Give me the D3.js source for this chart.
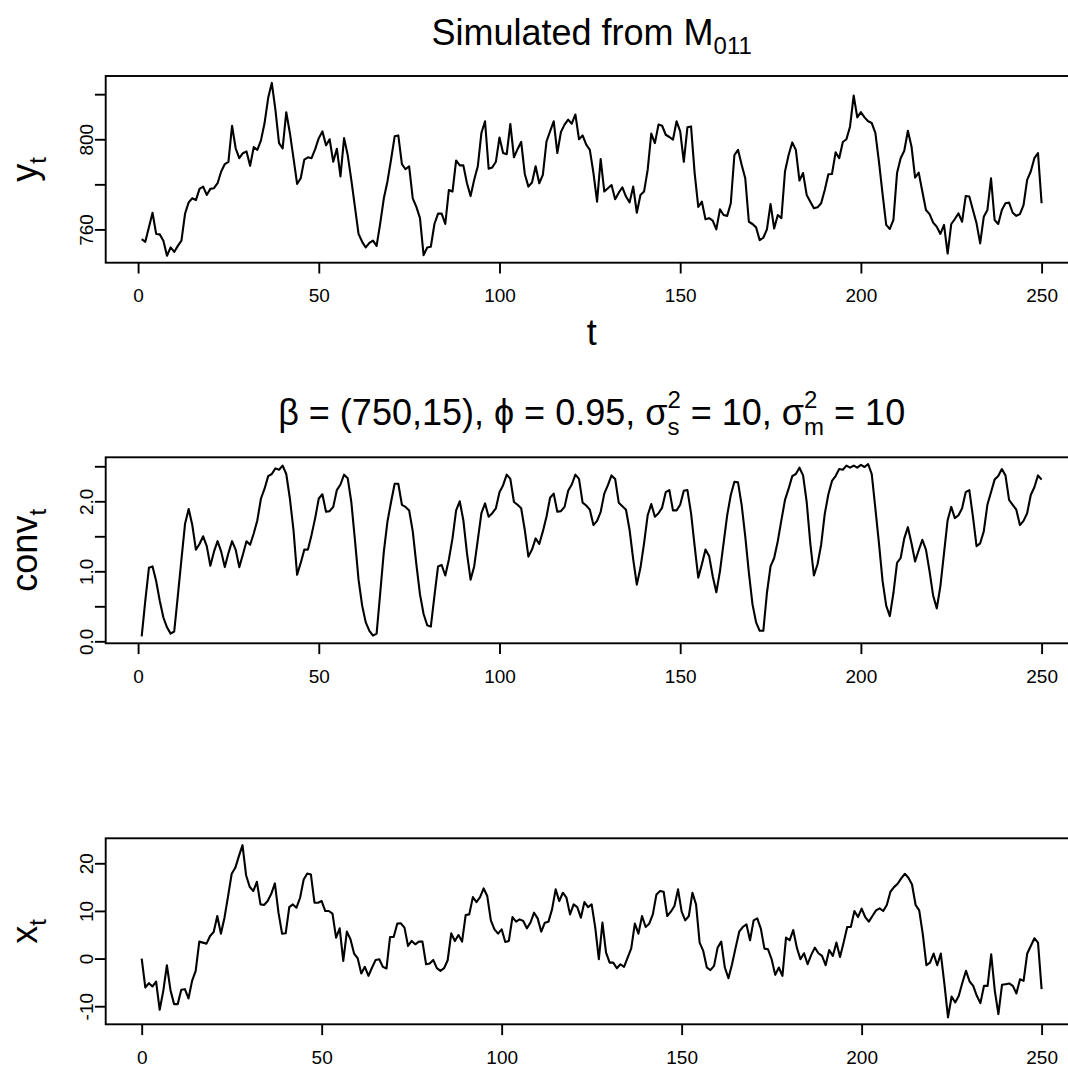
<!DOCTYPE html>
<html>
<head>
<meta charset="utf-8">
<script src="https://d3js.org/d3.v7.min.js"></script>
<style>
body { margin: 0; background: #fff; }
svg text { font-family: "Liberation Sans", Arial, sans-serif; fill: #000; white-space: pre; }
</style>
</head>
<body>
<svg id="chart" width="1068" height="1068"></svg>
<script>
//
// Data
//

// y_t, t = 1..250
var ytValues = [
  755.7, 754.5, 761, 767.4, 758, 757.8, 755, 748.3, 752, 750,
  752.7, 755, 767, 772, 773.8, 773, 778, 779, 775.3, 778,
  778.3, 780.5, 785.7, 789, 790, 806, 796, 791.6, 793.8, 794.6,
  788.2, 796.5, 795.3, 799.5, 807.2, 818.4, 825, 813, 798.3, 796,
  812, 802.8, 791.6, 780.2, 782.7, 791, 792, 791.6, 795.6, 800.5,
  803.5, 797.3, 800, 790, 795.8, 783.5, 800.5, 793, 782, 770,
  758, 754.5, 752, 754, 755, 752.7, 762.7, 773.8, 781.3, 791,
  801.3, 801.7, 789, 786.7, 788, 773.8, 770, 765, 748.6, 752,
  752.3, 762.4, 767, 767, 762.4, 777.5, 776.8, 790.6, 788.4, 788.4,
  780.5, 774.8, 782, 788, 802.8, 808, 786.9, 787.5, 790, 800.8,
  793.9, 793.4, 806.8, 792, 795.6, 798.8, 784.6, 779, 780.8, 788,
  780.5, 784.2, 799, 803.5, 808, 793.9, 803.2, 806.5, 808.7, 806.9,
  811, 800, 801.7, 797.6, 795.3, 785, 772.3, 791.2, 776.8, 778.3,
  779.7, 773.4, 776.3, 778.7, 774.6, 772, 779, 767.4, 775.3, 776.8,
  786.4, 802.5, 798.3, 806.5, 806, 802, 801, 799.8, 808, 803.5,
  790, 805.3, 805.7, 785, 770, 772.3, 764.5, 765, 763.9, 760,
  768.9, 766.4, 766, 771.6, 793, 795.3, 788.7, 782.7, 763.4, 762.4,
  760.9, 755.2, 756.3, 760, 771.3, 760.4, 766.4, 765, 785.7, 793,
  798.6, 795.3, 781.7, 785, 775.3, 772.3, 769.4, 769.8, 771.6, 777.5,
  784.5, 784.6, 794.2, 791.6, 798.8, 800, 805.7, 819.4, 809.7, 812,
  809.7, 808, 807.2, 802.8, 790, 775.7, 762, 760.2, 764.2, 785,
  791.6, 794.9, 803.8, 796.8, 783, 785.2, 776.8, 768.6, 766.8, 763,
  761.2, 758, 762, 749.3, 762.4, 764.6, 767.1, 763.4, 774.8, 774.6,
  768.6, 762.7, 753.8, 765.6, 768.6, 782.7, 764.2, 762.4, 768.6, 771.6,
  771.9, 767.4, 766, 766.8, 770.8, 782, 785.7, 791.6, 793.9, 771.6
]

// conv_t, t = 1..250
var convValues = [
  0.07, 0.58, 1.05, 1.07, 0.86, 0.58, 0.34, 0.2, 0.11, 0.14,
  0.65, 1.17, 1.68, 1.89, 1.66, 1.31, 1.39, 1.5, 1.36, 1.08,
  1.28, 1.43, 1.28, 1.06, 1.26, 1.43, 1.31, 1.06, 1.24, 1.43,
  1.38, 1.54, 1.73, 2.04, 2.18, 2.36, 2.39, 2.47, 2.45, 2.51,
  2.39, 2.04, 1.59, 0.95, 1.12, 1.31, 1.31, 1.52, 1.76, 2.04,
  2.1, 1.85, 1.86, 1.92, 2.16, 2.24, 2.38, 2.33, 1.99, 1.45,
  0.88, 0.51, 0.27, 0.15, 0.08, 0.11, 0.69, 1.28, 1.71, 1.99,
  2.25, 2.25, 1.95, 1.92, 1.87, 1.57, 1.1, 0.67, 0.39, 0.23,
  0.21, 0.65, 1.07, 1.09, 0.94, 1.17, 1.47, 1.87, 2.0, 1.73,
  1.26, 0.88, 1.07, 1.45, 1.83, 1.97, 1.78, 1.83, 1.9, 2.13,
  2.23, 2.38, 2.32, 1.99, 1.95, 1.9, 1.59, 1.21, 1.31, 1.47,
  1.39, 1.57, 1.78, 2.05, 2.11, 1.85, 1.86, 1.92, 2.15, 2.24,
  2.38, 2.32, 1.98, 1.94, 1.88, 1.66, 1.72, 1.85, 2.11, 2.23,
  2.37, 2.32, 1.98, 1.93, 1.88, 1.59, 1.17, 0.81, 1.05, 1.4,
  1.8, 1.96, 1.78, 1.83, 1.91, 2.13, 2.16, 1.87, 1.87, 1.95,
  2.15, 2.16, 1.83, 1.36, 0.91, 1.1, 1.31, 1.22, 0.93, 0.7,
  1.0, 1.4, 1.8, 2.09, 2.28, 2.27, 1.95, 1.5, 0.98, 0.53,
  0.27, 0.15, 0.15, 0.69, 1.07, 1.19, 1.43, 1.73, 2.02, 2.18,
  2.36, 2.39, 2.48, 2.37, 1.99, 1.4, 0.94, 1.1, 1.38, 1.82,
  2.1, 2.29, 2.36, 2.46, 2.45, 2.51, 2.48, 2.51, 2.48, 2.52,
  2.49, 2.53, 2.39, 1.9, 1.4, 0.86, 0.51, 0.36, 0.69, 1.12,
  1.19, 1.47, 1.63, 1.4, 1.14, 1.3, 1.45, 1.31, 1.0, 0.65,
  0.47, 0.79, 1.26, 1.73, 1.92, 1.76, 1.8, 1.9, 2.13, 2.16,
  1.78, 1.36, 1.4, 1.57, 1.95, 2.13, 2.31, 2.36, 2.46, 2.37,
  2.02, 1.95, 1.88, 1.66, 1.72, 1.83, 2.09, 2.2, 2.37, 2.31
]

// x_t, t = 0..250
var xtValues = [
  0,
  -6.07, -5.16, -5.86, -4.82, -10.75, -6.77, -1.4, -6.63, -9.56, -9.56,
  -6.56, -6.42, -8.37, -4.68, -2.58, 3.56, 3.35, 3.14, 4.75, 5.58,
  8.93, 5.23, 8.58, 13.1, 17.8, 19.05, 21.5, 23.8, 17.5, 15.07,
  14.17, 16.12, 11.37, 11.24, 12.07, 13.6, 15.77, 9.63, 5.23, 5.3,
  10.8, 11.37, 10.68, 12.77, 16.6, 17.86, 17.65, 11.72, 11.72, 12.07,
  9.98, 9.98, 9.42, 4.4, 6.35, -0.49, 5.65, 4.05, 1.05, 0.07,
  -3.14, -1.74, -3.63, -1.88, -0.28, -0.14, -1.74, -2.09, 4.54, 4.54,
  7.33, 7.4, 6.49, 2.65, 3.7, 3.0, 3.56, 3.56, -1.19, -1.05,
  -0.28, -2.02, -2.58, -2.02, -0.35, 5.3, 3.7, 4.95, 3.56, 9.14,
  9.28, 12.9, 11.86, 12.9, 14.72, 13.12, 8.03, 6.14, 5.23, 6.14,
  3.49, 3.7, 8.72, 7.75, 8.23, 7.89, 6.35, 7.54, 9.63, 8.44,
  5.65, 7.54, 7.75, 10.33, 14.52, 12.07, 13.82, 12.77, 9.28, 11.37,
  10.8, 8.58, 11.86, 10.8, 11.37, 6.49, -0.14, 7.54, 1.26, -0.84,
  -0.84, -2.02, -1.19, -1.74, 0.21, 2.16, 7.33, 5.23, 8.93, 6.63,
  7.33, 9.28, 13.47, 14.17, 14.03, 8.93, 9.84, 11.03, 14.52, 9.84,
  8.03, 8.93, 13.82, 11.37, 3.35, 1.6, -1.88, -2.44, -1.54, 2.3,
  3.56, -1.88, -4.12, -1.19, 2.3, 5.65, 6.63, 7.19, 3.84, 8.03,
  8.44, 6.28, 2.09, 1.95, -0.14, -3.42, -1.88, -3.63, 4.4, 3.84,
  6.0, 2.3, -0.14, 1.12, -1.19, 0.77, 2.3, 1.12, 0.56, -1.4,
  1.81, 0.56, 3.35, 0.35, 3.35, 6.63, 6.63, 9.98, 8.72, 10.47,
  8.72, 7.75, 8.93, 10.12, 10.54, 9.98, 11.24, 14.03, 15.0, 15.7,
  16.82, 17.8, 16.96, 15.56, 11.24, 10.12, 5.09, -1.4, -0.84, 1.05,
  -1.4, 1.05, -5.37, -12.35, -7.96, -9.21, -7.82, -5.02, -2.58, -4.82,
  -5.72, -7.82, -9.35, -5.72, -5.72, 0.91, -6.77, -11.65, -5.51, -5.37,
  -5.23, -5.72, -7.33, -4.33, -4.68, 1.05, 2.65, 4.26, 3.35, -6.42
]

var tFrom1 = d3.range(1, 251)
var tFrom0 = d3.range(0, 251)

// ticks
var xTicks = [0, 50, 100, 150, 200, 250]
var yTicks1 = [760, 780, 800, 820]
var yLabels1 = ["760", "", "800", ""]
var yTicks2 = [0, 0.5, 1, 1.5, 2, 2.5]
var yLabels2 = ["0.0", "", "1.0", "", "2.0", ""]
var yTicks3 = [-10, 0, 10, 20]
var yLabels3 = ["-10", "0", "10", "20"]

//
// Layout
//

var svg = d3.select("#chart")
var left = 105.7, right = 1077.6
var tickLen = 10.8
var big = 36, small = 24, tickFont = 19

// R style: extend the range 4% on each side
function padDomain(ext) {
  var p = (ext[1] - ext[0]) * 0.04
  return [ext[0] - p, ext[1] + p]
}

// text made of runs (for sub / superscripts); stack puts the next run under this one
function richText(parent, runs) {
  var g = parent.append("g")
  var cursor = 0, stackW = null
  runs.forEach(function(r) {
    var t = g.append("text")
      .attr("x", cursor)
      .attr("y", r.dy || 0)
      .style("font-size", r.size + "px")
      .text(r.text)
    var w = t.node().getComputedTextLength()
    if (r.stack) {
      stackW = w
    } else if (stackW !== null) {
      cursor += Math.max(w, stackW)
      stackW = null
    } else {
      cursor += w
    }
  })
  g.selectAll("text").attr("x", function() { return +d3.select(this).attr("x") - cursor / 2 })
  return g
}

function panel(cfg) {
  var x = d3.scaleLinear().domain(padDomain(d3.extent(cfg.t))).range([left, right])
  var y = d3.scaleLinear().domain(padDomain(d3.extent(cfg.values))).range([cfg.bottom, cfg.top])

  var line = d3.line()
    .x(function(d, i) { return x(cfg.t[i]) })
    .y(function(d) { return y(d) })

  svg.append("path")
    .datum(cfg.values)
    .attr("d", line)
    .attr("fill", "none")
    .attr("stroke", "#000")
    .attr("stroke-width", 2.1)
    .attr("stroke-linejoin", "round")

  svg.append("rect")
    .attr("x", left).attr("y", cfg.top)
    .attr("width", right - left).attr("height", cfg.bottom - cfg.top)
    .attr("fill", "none").attr("stroke", "#000").attr("stroke-width", 1.9)

  // x axis
  var gx = svg.append("g")
    .attr("transform", "translate(0," + cfg.bottom + ")")
    .call(d3.axisBottom(x).tickValues(xTicks).tickSize(tickLen).tickPadding(15).tickFormat(d3.format("d")))
  gx.select(".domain").remove()
  gx.selectAll(".tick line").attr("stroke", "#000").attr("stroke-width", 1.9)
  gx.selectAll("text").style("font-size", tickFont + "px").attr("fill", "#000")

  // y axis, labels turned like R does
  var gy = svg.append("g")
    .attr("transform", "translate(" + left + ",0)")
    .call(d3.axisLeft(y).tickValues(cfg.yTicks).tickSize(tickLen)
      .tickFormat(function(d, i) { return cfg.yLabels[i] }))
  gy.select(".domain").remove()
  gy.selectAll(".tick line").attr("stroke", "#000").attr("stroke-width", 1.9)
  gy.selectAll("text")
    .style("font-size", tickFont + "px")
    .attr("fill", "#000")
    .attr("text-anchor", "middle")
    .attr("x", 0).attr("y", -13).attr("dy", null)
    .attr("transform", "rotate(-90)")

  // y label
  var lab = richText(svg, [{text: cfg.ylab, size: big}, {text: "t", size: small, dy: 9}])
  lab.attr("transform", "translate(37," + (cfg.top + cfg.bottom) / 2 + ") rotate(-90)")
}

//
// Panels
//

panel({t: tFrom1, values: ytValues, top: 76, bottom: 262.7, yTicks: yTicks1, yLabels: yLabels1, ylab: "y"})
panel({t: tFrom1, values: convValues, top: 457.3, bottom: 643.3, yTicks: yTicks2, yLabels: yLabels2, ylab: "conv"})
panel({t: tFrom0, values: xtValues, top: 838.3, bottom: 1024.3, yTicks: yTicks3, yLabels: yLabels3, ylab: "x"})

var mid = (left + right) / 2

// titles
richText(svg, [{text: "Simulated from M", size: big}, {text: "011", size: small, dy: 9}])
  .attr("transform", "translate(" + mid + ",45)")

svg.append("text")
  .attr("x", mid).attr("y", 345)
  .attr("text-anchor", "middle")
  .style("font-size", big + "px")
  .text("t")

richText(svg, [
  {text: "β = (750,15), ϕ = 0.95, σ", size: big},
  {text: "2", size: small, dy: -17, stack: true},
  {text: "s", size: small, dy: 10},
  {text: " = 10, σ", size: big},
  {text: "2", size: small, dy: -17, stack: true},
  {text: "m", size: small, dy: 10},
  {text: " = 10", size: big}
]).attr("transform", "translate(" + mid + ",425)")
</script>
</body>
</html>
